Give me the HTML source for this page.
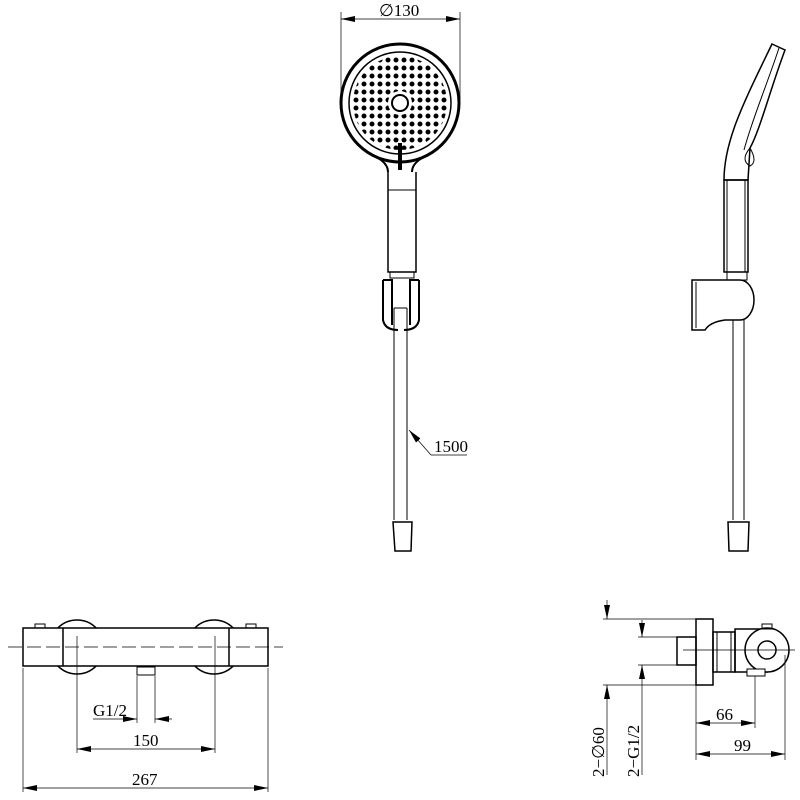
<!DOCTYPE html>
<html><head><meta charset="utf-8"><style>html,body{margin:0;padding:0;background:#fff}svg{display:block}text{font-family:"Liberation Serif",serif;font-size:17px;fill:#000}</style></head>
<body>
<svg width="800" height="800" viewBox="0 0 800 800" xmlns="http://www.w3.org/2000/svg">
<defs>
<marker id="a" viewBox="0 0 14 6" refX="14" refY="3" markerWidth="14" markerHeight="6" orient="auto-start-reverse" markerUnits="userSpaceOnUse"><path d="M0,0L14,3L0,6z" fill="#000"/></marker>
<pattern id="p" x="0" y="0" width="8" height="8" patternUnits="userSpaceOnUse"><circle cx="4" cy="4" r="2.5" fill="#000"/></pattern>
<clipPath id="c"><circle cx="400" cy="103" r="47"/></clipPath>
</defs>
<g clip-path="url(#c)"><rect x="350" y="53" width="100" height="100" fill="url(#p)"/></g>
<circle cx="400" cy="103" r="12" fill="#fff"/>
<g fill="none" stroke="#000" stroke-width="1">
<line x1="341" y1="12" x2="341" y2="100" stroke-width="0.7"/><line x1="460" y1="12" x2="460" y2="100" stroke-width="0.7"/>
<line x1="341" y1="19" x2="460" y2="19" stroke-width="0.7" marker-start="url(#a)" marker-end="url(#a)"/>
<circle cx="400" cy="103" r="59" stroke-width="3"/>
<path d="M378,158 Q388,164 388,172 M422,158 Q412,164 412,172" stroke-width="2"/>
<path d="M388,172 L388,272 L416,272 L416,172" stroke-width="1.5"/>
<line x1="388" y1="190" x2="416" y2="190"/>
<circle cx="400" cy="103" r="51" stroke-width="1.5"/>
<circle cx="400" cy="103" r="8" stroke-width="2"/>
<line x1="400" y1="143" x2="400" y2="170" stroke-width="4"/>
<rect x="390" y="272" width="24" height="6"/>
<path d="M383,280 h9 v45 M419,280 h-9 v45 M383,280 v40 q2,10 15,10 M419,280 v40 q-2,10 -15,10" stroke-width="2"/>
<line x1="394" y1="308" x2="394" y2="520"/><line x1="407" y1="308" x2="407" y2="520"/><line x1="394" y1="308" x2="407" y2="308"/>
<path d="M393,522 L412,522 L411,551 L395,551 Z" stroke-width="1.5"/>
<line x1="431" y1="455" x2="409" y2="430" stroke-width="0.7" marker-end="url(#a)"/><line x1="431" y1="455" x2="467" y2="455" stroke-width="0.7"/>
<path d="M772,44 L785,50 C770,90 760,130 750,148 L748,180 L724,180 C724,140 745,100 772,44 Z" stroke-width="1.5"/>
<path d="M779,48 C765,90 752,120 744,150" />
<path d="M750,148 q-10,12 0,18 q8,-4 0,-18"/>
<rect x="724" y="180" width="24" height="92" stroke-width="1.5"/><line x1="727" y1="180" x2="727" y2="272"/><line x1="745" y1="180" x2="745" y2="272"/>
<rect x="727" y="272" width="20" height="8"/>
<path d="M692,280 H740 A14,20 0 0 1 740,320 H725 Q710,322 705,330 H692 Z" stroke-width="1.5"/>
<line x1="696" y1="282" x2="696" y2="328"/>
<line x1="733" y1="320" x2="733" y2="520"/><line x1="744" y1="320" x2="744" y2="520"/>
<path d="M728,522 L749,522 L748,551 L729,551 Z" stroke-width="1.5"/>
<circle cx="77" cy="647" r="27" stroke-width="1.5"/><circle cx="214" cy="647" r="27" stroke-width="1.5"/>
<rect x="23" y="628" width="245" height="38" fill="#fff" stroke-width="1.5"/>
<line x1="63" y1="628" x2="63" y2="666" stroke-width="1.5"/><line x1="229" y1="628" x2="229" y2="666" stroke-width="1.5"/>
<rect x="35" y="624" width="10" height="4"/><rect x="246" y="624" width="10" height="4"/>
<rect x="137" y="667" width="18" height="8"/>
<line x1="8" y1="647" x2="283" y2="647" stroke-dasharray="14,5" stroke-width="0.7"/>
<g stroke-width="0.7">
<line x1="23" y1="668" x2="23" y2="792"/><line x1="268" y1="668" x2="268" y2="792"/>
<line x1="77" y1="636" x2="77" y2="753"/><line x1="215" y1="636" x2="215" y2="753"/>
<line x1="137" y1="676" x2="137" y2="723"/><line x1="155" y1="676" x2="155" y2="723"/>
<line x1="23" y1="788" x2="268" y2="788" marker-start="url(#a)" marker-end="url(#a)"/>
<line x1="77" y1="749" x2="215" y2="749" marker-start="url(#a)" marker-end="url(#a)"/>
<line x1="93" y1="719" x2="137" y2="719" marker-end="url(#a)"/><line x1="172" y1="719" x2="155" y2="719" marker-end="url(#a)"/>
</g>
<rect x="696" y="619" width="17" height="66" stroke-width="1.5"/>
<rect x="677" y="637" width="19" height="28" stroke-width="1.5"/>
<rect x="713" y="632" width="22" height="40" stroke-width="1.5"/><line x1="717" y1="632" x2="717" y2="672"/><line x1="731" y1="632" x2="731" y2="672"/>
<rect x="735" y="629" width="32" height="43" stroke-width="1.5"/>
<circle cx="767" cy="650" r="22" fill="#fff" stroke-width="1.5"/>
<circle cx="767" cy="650" r="9" stroke-width="1.5"/>
<rect x="762" y="624" width="10" height="5"/><rect x="747" y="669" width="18" height="7" fill="#fff"/>
<line x1="683" y1="650" x2="795" y2="650" stroke-width="0.7"/>
<g stroke-width="0.7">
<line x1="603" y1="619" x2="696" y2="619"/><line x1="603" y1="685" x2="696" y2="685"/>
<line x1="638" y1="637" x2="677" y2="637"/><line x1="638" y1="665" x2="677" y2="665"/>
<line x1="607" y1="600" x2="607" y2="619" marker-end="url(#a)"/><line x1="607" y1="775" x2="607" y2="685" marker-end="url(#a)"/>
<line x1="642" y1="620" x2="642" y2="637" marker-end="url(#a)"/><line x1="642" y1="775" x2="642" y2="665" marker-end="url(#a)"/>
<line x1="696" y1="685" x2="696" y2="760"/><line x1="755" y1="676" x2="755" y2="728"/><line x1="785" y1="655" x2="785" y2="760"/>
<line x1="696" y1="723" x2="755" y2="723" marker-start="url(#a)" marker-end="url(#a)"/>
<line x1="696" y1="754" x2="785" y2="754" marker-start="url(#a)" marker-end="url(#a)"/>
</g>
</g>
<text x="379" y="16">∅130</text>
<text x="434" y="452">1500</text>
<text x="93" y="716">G1/2</text>
<text x="133" y="746">150</text>
<text x="132" y="785">267</text>
<text x="716" y="720">66</text>
<text x="734" y="751">99</text>
<text transform="translate(604,777) rotate(-90)">2−∅60</text>
<text transform="translate(639,777) rotate(-90)">2−G1/2</text>
</svg>
</body></html>
